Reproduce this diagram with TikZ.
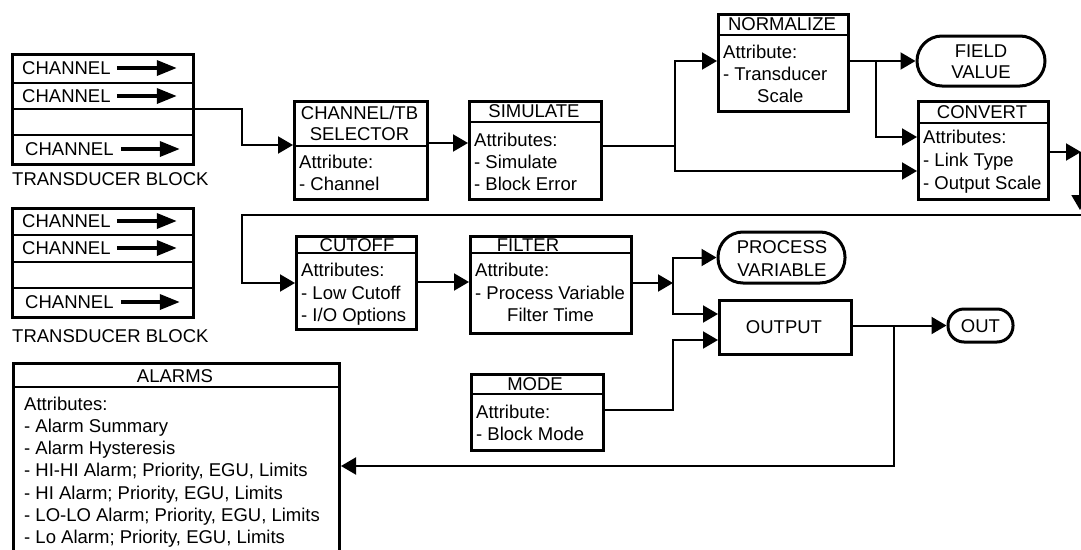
\documentclass[tikz,border=0pt]{standalone}
\usepackage{fontspec}
\setmainfont{Liberation Sans}
\usetikzlibrary{arrows.meta}
\tikzset{
  box/.style={draw, line width=3pt, inner sep=0pt, anchor=north west},
  pill/.style={draw, line width=3pt, inner sep=0pt},
  hdr/.style={line width=1.3pt},
  rowdiv/.style={line width=1.6pt},
  conn/.style={line width=2pt, -{Triangle[length=15pt,width=17pt]}},
  plain/.style={line width=2pt},
  charrow/.style={line width=3.5pt, -{Triangle[length=20pt,width=15pt]}},
  lbl/.style={inner sep=0pt, text height=13pt, text depth=0pt, anchor=west},
  clbl/.style={inner sep=0pt, text height=13pt, text depth=0pt},
}
\begin{document}
\begin{tikzpicture}[x=1pt,y=-1pt,font=\fontsize{18.5}{22}\selectfont]
\useasboundingbox (0,0) rectangle (1081,549);
\clip (0,0) rectangle (1081,549);
% ---------- Transducer blocks ----------
\node[box, minimum width=181pt, minimum height=110pt] (tb1) at (11,53) {};
\draw[rowdiv] (tb1.west |- 0,83) -- (tb1.east |- 0,83);
\draw[rowdiv] (tb1.west |- 0,109) -- (tb1.east |- 0,109);
\draw[rowdiv] (tb1.west |- 0,135) -- (tb1.east |- 0,135);
\node[lbl] (c11) at (22,68) {CHANNEL};
\node[lbl] (c12) at (22,96) {CHANNEL};
\node[lbl] (c14) at (25,149) {CHANNEL};
\draw[charrow] ([xshift=6pt]c11.east) -- ([xshift=66pt]c11.east);
\draw[charrow] ([xshift=6pt]c12.east) -- ([xshift=66pt]c12.east);
\draw[charrow] ([xshift=7pt]c14.east) -- ([xshift=66pt]c14.east);
\node[lbl] (tb1l) at (12,179) {TRANSDUCER BLOCK};

\node[box, minimum width=181pt, minimum height=109pt] (tb2) at (11,207) {};
\draw[rowdiv] (tb2.west |- 0,235) -- (tb2.east |- 0,235);
\draw[rowdiv] (tb2.west |- 0,262) -- (tb2.east |- 0,262);
\draw[rowdiv] (tb2.west |- 0,288) -- (tb2.east |- 0,288);
\node[lbl] (c21) at (22,221) {CHANNEL};
\node[lbl] (c22) at (22,248) {CHANNEL};
\node[lbl] (c24) at (25,302) {CHANNEL};
\draw[charrow] ([xshift=6pt]c21.east) -- ([xshift=66pt]c21.east);
\draw[charrow] ([xshift=6pt]c22.east) -- ([xshift=66pt]c22.east);
\draw[charrow] ([xshift=7pt]c24.east) -- ([xshift=66pt]c24.east);
\node[lbl] (tb2l) at (12,336) {TRANSDUCER BLOCK};

% ---------- Channel/TB selector ----------
\node[box, minimum width=133pt, minimum height=98pt] (sel) at (293,100) {};
\draw[hdr] (sel.west |- 0,146) -- (sel.east |- 0,146);
\node[clbl] (sel1) at (359.5,113) {CHANNEL/TB};
\node[clbl] (sel2) at (359.5,134) {SELECTOR};
\node[lbl] (sel3) at (299,162) {Attribute:};
\node[lbl] (sel4) at (299,184) {- Channel};

% ---------- Simulate ----------
\node[box, minimum width=132pt, minimum height=98pt] (sim) at (468,100) {};
\draw[hdr] (sim.west |- 0,122) -- (sim.east |- 0,122);
\node[clbl] (sim1) at (534,111) {SIMULATE};
\node[lbl] (sim2) at (474,140) {Attributes:};
\node[lbl] (sim3) at (474,162) {- Simulate};
\node[lbl] (sim4) at (474,184) {- Block Error};

% ---------- Normalize ----------
\node[box, minimum width=130pt, minimum height=97pt] (norm) at (717,13) {};
\draw[hdr] (norm.west |- 0,35) -- (norm.east |- 0,35);
\node[clbl] (norm1) at (782,24) {NORMALIZE};
\node[lbl] (norm2) at (723,52) {Attribute:};
\node[lbl] (norm3) at (723,74) {- Transducer};
\node[lbl] (norm4) at (757,96) {Scale};

% ---------- Field value ----------
\node[pill, minimum width=128pt, minimum height=50pt, rounded corners=25pt] (field) at (981,61) {};
\node[clbl] (field1) at (981,51) {FIELD};
\node[clbl] (field2) at (981,72) {VALUE};

% ---------- Convert ----------
\node[box, minimum width=130pt, minimum height=98pt] (conv) at (917,100) {};
\draw[hdr] (conv.west |- 0,123) -- (conv.east |- 0,123);
\node[clbl] (conv1) at (982,112) {CONVERT};
\node[lbl] (conv2) at (923,137) {Attributes:};
\node[lbl] (conv3) at (923,160) {- Link Type};
\node[lbl] (conv4) at (923,183) {- Output Scale};

% ---------- Cutoff ----------
\node[box, minimum width=120pt, minimum height=93pt] (cut) at (295,235) {};
\draw[hdr] (cut.west |- 0,253) -- (cut.east |- 0,253);
\node[clbl] (cut1) at (357,245) {CUTOFF};
\node[lbl] (cut2) at (301,270) {Attributes:};
\node[lbl] (cut3) at (301,293) {- Low Cutoff};
\node[lbl] (cut4) at (301,315) {- I/O Options};

% ---------- Filter ----------
\node[box, minimum width=161pt, minimum height=97pt] (filt) at (469,235) {};
\draw[hdr] (filt.west |- 0,253) -- (filt.east |- 0,253);
\node[clbl] (filt1) at (528,245) {FILTER};
\node[lbl] (filt2) at (475,270) {Attribute:};
\node[lbl] (filt3) at (475,293) {- Process Variable};
\node[lbl] (filt4) at (507,315) {Filter Time};

% ---------- Process variable ----------
\node[pill, minimum width=127pt, minimum height=51pt, rounded corners=25pt] (pv) at (781.5,257.5) {};
\node[clbl] (pv1) at (782,247) {PROCESS};
\node[clbl] (pv2) at (782,270) {VARIABLE};

% ---------- Output ----------
\node[box, minimum width=132pt, minimum height=54pt] (outp) at (718,299) {};
\node[clbl] (outp1) at (784,327) {OUTPUT};

% ---------- OUT ----------
\node[pill, minimum width=65pt, minimum height=33pt, rounded corners=16pt] (out) at (980.5,325.5) {};
\node[clbl] (out1) at (980.5,325.5) {OUT};

% ---------- Mode ----------
\node[box, minimum width=132pt, minimum height=76pt] (mode) at (470,373) {};
\draw[hdr] (mode.west |- 0,394) -- (mode.east |- 0,394);
\node[clbl] (mode1) at (535,384) {MODE};
\node[lbl] (mode2) at (476,412) {Attribute:};
\node[lbl] (mode3) at (476,434) {- Block Mode};

% ---------- Alarms ----------
\node[box, minimum width=326pt, minimum height=200pt] (alarm) at (12,362) {};
\draw[hdr] (alarm.west |- 0,387) -- (alarm.east |- 0,387);
\node[clbl] (al0) at (175,376) {ALARMS};
\node[lbl] (al1) at (24,404) {Attributes:};
\node[lbl] (al2) at (24,426) {- Alarm Summary};
\node[lbl] (al3) at (24,448) {- Alarm Hysteresis};
\node[lbl] (al4) at (24,470) {- HI-HI Alarm; Priority, EGU, Limits};
\node[lbl] (al5) at (24,493) {- HI Alarm; Priority, EGU, Limits};
\node[lbl] (al6) at (24,515) {- LO-LO Alarm; Priority, EGU, Limits};
\node[lbl] (al7) at (24,537) {- Lo Alarm; Priority, EGU, Limits};

% ---------- Connectors ----------
\draw[conn] (tb1.east |- 0,109) -- (242,109) |- (sel.west |- 0,145);
\draw[conn] (sel.east |- 0,143) -- (sim.west |- 0,143);
\coordinate (j1) at (675,146);
\draw[plain] (sim.east |- j1) -- (j1);
\draw[conn] (j1) |- (norm.west |- 0,61);
\draw[conn] (j1) |- (conv.west |- 0,171);
\coordinate (j2) at (876,61);
\draw[conn] (norm.east |- 0,61) -- (field.west);
\draw[conn] (j2) |- (conv.west |- 0,137);
\coordinate (r1) at (1081,152);
\draw[conn] (conv.east |- r1) -- (r1);
\coordinate (r2) at (1080,152);
\coordinate (r3) at (1080,210);
\draw[conn] (r2) -- (r3);
\coordinate (r4) at (1085,215);
\draw[conn] (r4) -- (242,215) |- (cut.west |- 0,283);
\draw[conn] (cut.east |- 0,282) -- (filt.west |- 0,282);
\coordinate (j3) at (673,283);
\draw[conn] (filt.east |- j3) -- (j3);
\draw[conn] (j3) |- (pv.west);
\draw[conn] (j3) |- (outp.west |- 0,314);
\draw[conn] (mode.east |- 0,410) -- (673,410) |- (outp.west |- 0,340);
\draw[conn] (outp.east |- out.west) -- (out.west);
\coordinate (j4) at (894,325.5);
\draw[conn] (j4) -- (894,466) -- (alarm.east |- 0,466);
\end{tikzpicture}
\end{document}
